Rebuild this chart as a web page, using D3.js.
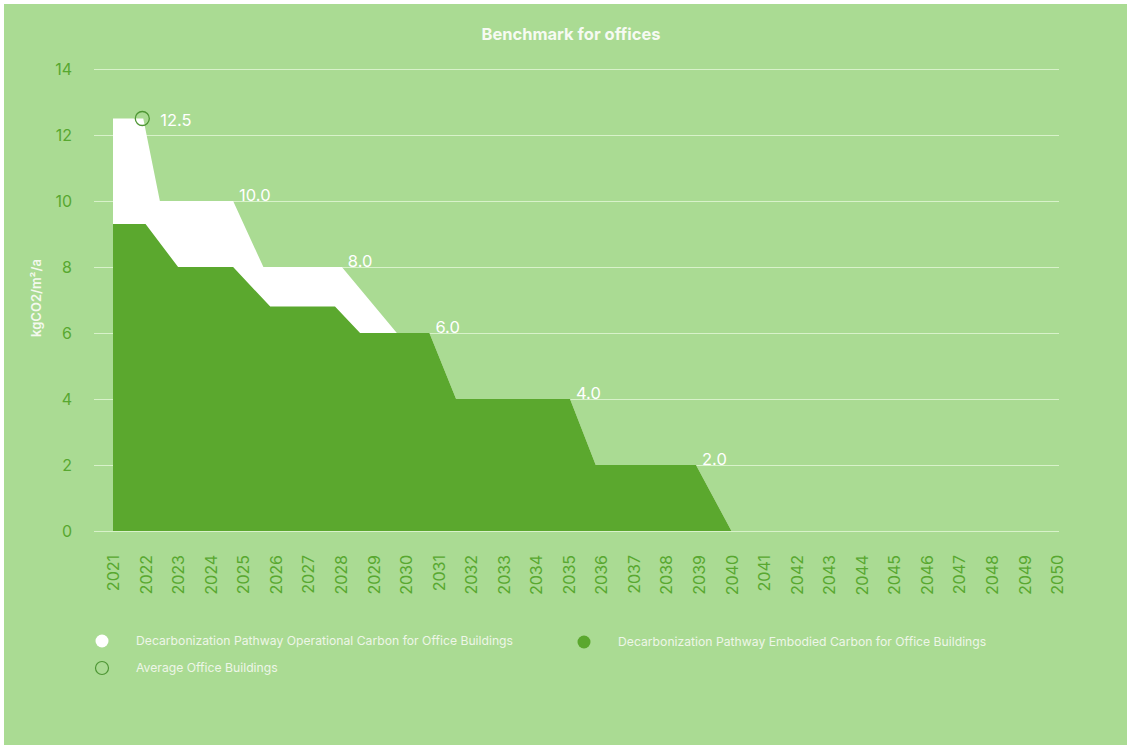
<!DOCTYPE html>
<html>
<head>
<meta charset="utf-8">
<script src="https://cdn.jsdelivr.net/npm/d3@7"></script>
<style>
  html, body { margin: 0; padding: 0; background: #ffffff; }
  svg { display: block; font-family: Inter, Lato, "Noto Sans", sans-serif; }
</style>
</head>
<body>
<svg id="chart" width="1131" height="749"></svg>
<script>
// Year axis categories
const years = d3.range(2021, 2051);
const yTicks = [0, 2, 4, 6, 8, 10, 12, 14];

// Total pathway (operational + embodied), top edge of the white band
const totalYears  = [2021, 2021.93, 2022.44, 2024.69, 2025.62, 2028.03, 2029.72, 2030.72, 2031.54, 2035.04, 2035.83, 2038.91, 2040];
const totalValues = [12.5, 12.5, 10, 10, 8, 8, 6, 6, 4, 4, 2, 2, 0];

// Embodied carbon pathway (green band)
const embodiedYears  = [2021, 2022, 2023, 2024.69, 2025.83, 2027.82, 2028.59, 2030.72, 2031.54, 2035.04, 2035.83, 2038.91, 2040];
const embodiedValues = [9.3, 9.3, 8, 8, 6.8, 6.8, 6, 6, 4, 4, 2, 2, 0];

// Labelled benchmark steps
const labelYears  = [2021.93, 2024.69, 2028.03, 2030.72, 2035.04, 2038.91];
const labelValues = [12.5, 10.0, 8.0, 6.0, 4.0, 2.0];

// Average office building
const averageYear = 2021.9;
const averageValue = 12.5;

const legendItems = [
  "Decarbonization Pathway Operational Carbon for Office Buildings",
  "Decarbonization Pathway Embodied Carbon for Office Buildings",
  "Average Office Buildings"
];

const BG = "rgb(170,219,147)";
const GREEN = "rgb(91,168,46)";
const AXIS_GREEN = "rgb(88,168,48)";
const GRID = "rgba(228,247,216,0.8)";

const svg = d3.select("#chart");

svg.append("rect")
  .attr("x", 4).attr("y", 4).attr("width", 1123).attr("height", 741)
  .attr("fill", BG);

const x = d3.scaleLinear().domain([2021, 2050]).range([113, 1057]);
const y = d3.scaleLinear().domain([0, 14]).range([531, 69]);

// Title
svg.append("text")
  .attr("x", 571).attr("y", 40)
  .attr("text-anchor", "middle")
  .attr("fill", "#f6faf2")
  .attr("font-size", 16.5).attr("font-weight", 700)
  .text("Benchmark for offices");

// Y axis with grid lines
const gridLeft = 94, gridRight = 1059;
const yAxis = svg.append("g")
  .attr("transform", `translate(${gridLeft},0)`)
  .call(d3.axisLeft(y).tickValues(yTicks).tickSize(-(gridRight - gridLeft)).tickPadding(22).tickFormat(d3.format("d")));
yAxis.select(".domain").remove();
yAxis.selectAll(".tick line").attr("stroke", GRID).attr("stroke-width", 1);
yAxis.selectAll(".tick text")
  .attr("fill", AXIS_GREEN).attr("font-size", 16).attr("font-family", "Inter, sans-serif");

// Y axis title
svg.append("text")
  .attr("transform", "translate(41,298) rotate(-90)")
  .attr("text-anchor", "middle")
  .attr("fill", "#f4f9ef")
  .attr("font-size", 13).attr("font-weight", 600)
  .text("kgCO2/m²/a");

// Areas
const totalPts = totalYears.map((yr, i) => [yr, totalValues[i]]);
const embodiedPts = embodiedYears.map((yr, i) => [yr, embodiedValues[i]]);
const area = d3.area().x(d => x(d[0])).y0(y(0)).y1(d => y(d[1]));

svg.append("path").datum(totalPts).attr("d", area).attr("fill", "#ffffff");
svg.append("path").datum(embodiedPts).attr("d", area).attr("fill", GREEN);

// X axis
const xAxis = svg.append("g")
  .attr("transform", `translate(0,${y(0)})`)
  .call(d3.axisBottom(x).tickValues(years).tickSize(0).tickPadding(0).tickFormat(d3.format("d")));
xAxis.select(".domain").remove();
xAxis.selectAll(".tick text")
  .attr("fill", AXIS_GREEN).attr("font-size", 16).attr("font-family", "Inter, sans-serif")
  .attr("text-anchor", "end")
  .attr("dy", "0.35em")
  .attr("transform", "translate(0,24) rotate(-90)")
  .attr("x", 0).attr("y", 0);

// Average office marker
svg.append("circle")
  .attr("cx", x(averageYear)).attr("cy", y(averageValue)).attr("r", 7)
  .attr("fill", "none").attr("stroke", "rgb(78,150,52)").attr("stroke-width", 1.3);

// Step value labels
svg.append("g").selectAll("text")
  .data(labelYears.map((yr, i) => [yr, labelValues[i]]))
  .join("text")
  .attr("x", (d, i) => x(d[0]) + (i === 0 ? 17 : 6))
  .attr("y", (d, i) => y(d[1]) + (i === 0 ? 7 : 0))
  .attr("fill", "#ffffff")
  .attr("font-size", 16.5)
  .text(d => d[1].toFixed(1));

// Legend
const legend = svg.append("g").attr("font-size", 12.2).attr("fill", "#eef6e8");
const legendPos = [[102, 641, 136], [584, 642, 618], [102, 668, 136]];
legendItems.forEach((label, i) => {
  const [cx, cy, tx] = legendPos[i];
  const c = legend.append("circle").attr("cx", cx).attr("cy", cy).attr("r", 6.5);
  if (i === 0) c.attr("fill", "#ffffff");
  else if (i === 1) c.attr("fill", GREEN);
  else c.attr("fill", "none").attr("stroke", "rgb(78,150,52)").attr("stroke-width", 1.2);
  legend.append("text").attr("x", tx).attr("y", cy).attr("dy", "0.35em").text(label);
});
</script>
</body>
</html>
